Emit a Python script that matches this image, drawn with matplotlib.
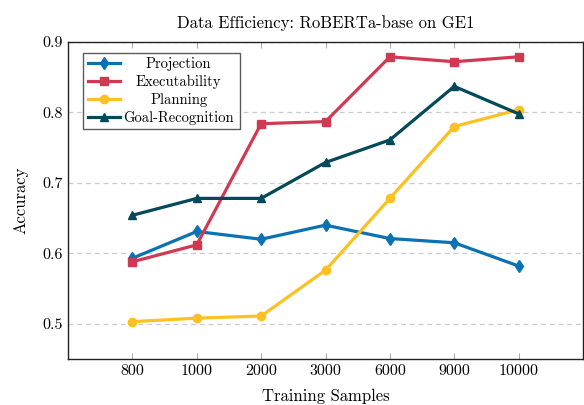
import matplotlib
matplotlib.use("Agg")
import matplotlib.pyplot as plt
from matplotlib.ticker import FormatStrFormatter
from matplotlib.offsetbox import DrawingArea

plt.rcParams['font.family'] = ['cmr10', 'DejaVu Serif']
plt.rcParams['axes.formatter.use_mathtext'] = True
plt.rcParams['mathtext.fontset'] = 'cm'

samples = ['800', '1000', '2000', '3000', '6000', '9000', '10000']
projection = [0.593, 0.631, 0.620, 0.640, 0.621, 0.615, 0.582]
executability = [0.588, 0.612, 0.784, 0.787, 0.879, 0.872, 0.879]
planning = [0.503, 0.508, 0.511, 0.576, 0.678, 0.780, 0.804]
goal_recognition = [0.654, 0.678, 0.678, 0.729, 0.761, 0.837, 0.798]

series = [
    ('Projection', projection, '#0a72b3', 'd'),
    ('Executability', executability, '#cf3a52', 's'),
    ('Planning', planning, '#fbc122', 'o'),
    ('Goal-Recognition', goal_recognition, '#03495a', '^'),
]

fig = plt.figure(figsize=(5.84, 4.05), dpi=100)
ax = fig.add_axes([68/584, 1 - 359/405, (583-68)/584, (359-42)/405])

x = list(range(len(samples)))
for name, vals, color, marker in series:
    ms = 6.3 if marker == 'd' else 6
    ax.plot(x, vals, color=color, marker=marker, lw=2.3, ms=ms, label=name)

ax.set_xlim(-1, 7)
ax.set_ylim(0.45, 0.9)
ax.set_xticks(x)
ax.set_xticklabels(samples)
ax.set_yticks([0.5, 0.6, 0.7, 0.8, 0.9])
ax.yaxis.set_major_formatter(FormatStrFormatter('%.1f'))
ax.tick_params(axis='both', direction='in', labelsize=11.5, length=4, color='#aaaaaa')
ax.tick_params(axis='x', top=True)
ax.tick_params(axis='y', length=0)
ax.grid(axis='y', ls=(0, (4, 3)), color='#cccccc', lw=0.9)
for s in ax.spines.values():
    s.set_linewidth(1.0)
    s.set_color('#222222')

ax.set_xlabel('Training Samples', fontsize=12, labelpad=8)
ax.set_ylabel('Accuracy', fontsize=12, labelpad=10)
ax.set_title('Data Efficiency: RoBERTa-base on GE1', fontsize=12, pad=10)

leg = ax.legend(loc='upper left', bbox_to_anchor=(0.03, 0.965), fontsize=10.5,
                frameon=True, fancybox=False, edgecolor='#333333', handlelength=2.2,
                borderpad=0.3, labelspacing=0.25, handletextpad=0.12, borderaxespad=0)
leg.get_frame().set_linewidth(1.0)

# centre the legend labels in their column, like pgfplots does
renderer = fig.canvas.get_renderer()
widths = [t.get_window_extent(renderer).width * 72 / fig.dpi for t in leg.texts]
wmax = max(widths)
column = leg._legend_handle_box.get_children()[0]
for row, w in zip(column.get_children(), widths):
    handle, text = row.get_children()[:2]
    extra = (wmax - w) / 2
    row._children = [handle, DrawingArea(extra, 1), text, DrawingArea(extra, 1)]

fig.savefig('out.png', dpi=100)
